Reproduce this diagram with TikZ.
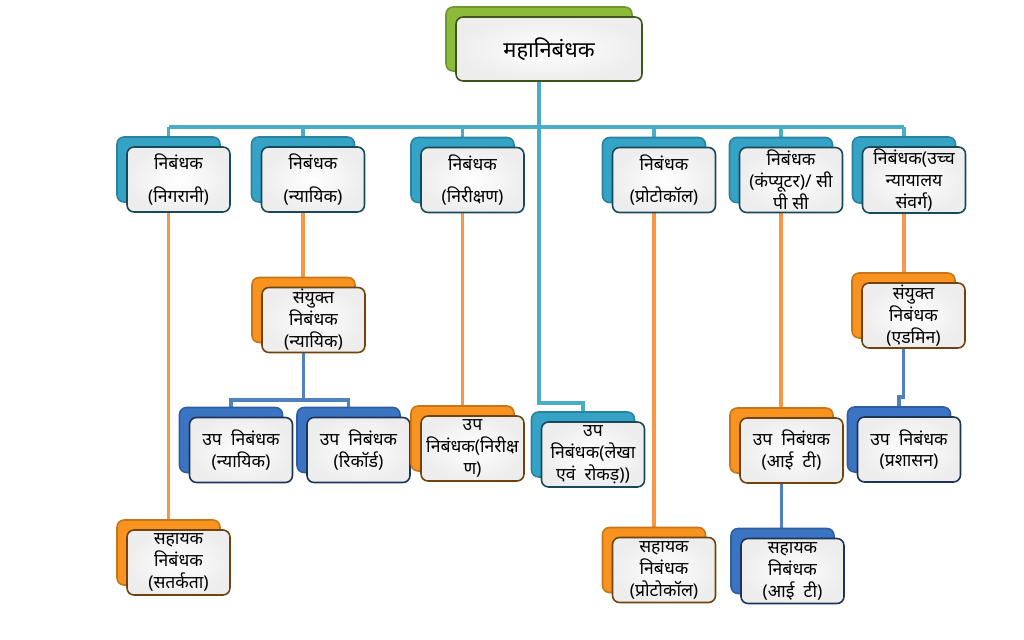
\documentclass[tikz,border=0pt]{standalone}
\usepackage{fontspec}
\newfontfamily\hindi[Script=Devanagari]{Noto Sans}
\usetikzlibrary{shadows,backgrounds}

\definecolor{leafgreen}{HTML}{8CBB3C}
\definecolor{aqua}{HTML}{35A3C6}
\definecolor{amber}{HTML}{F7931E}
\definecolor{royal}{HTML}{3C74C4}
\definecolor{aqualine}{HTML}{4BACC6}
\definecolor{amberline}{HTML}{F79646}
\definecolor{royalline}{HTML}{4F81BD}

\tikzset{
	card/.style={draw=#1!45!black, line width=0.9pt, rounded corners=4pt,
		inner color=white, outer color=black!7,
		minimum width=2.06cm, minimum height=1.3cm, inner sep=1pt,
		align=center, font=\hindi\fontsize{10}{12.5}\selectfont,
		general shadow={fill=#1, draw=#1!80!black, shadow xshift=-0.2cm, shadow yshift=0.2cm}},
	link/.style={draw=#1, line width=2pt},
}

\begin{document}
\begin{tikzpicture}[x=0.02cm, y=-0.02cm]
	\useasboundingbox (0,0) rectangle (1024,639);
	% top
	\node[card=leafgreen, minimum width=3.72cm, minimum height=1.28cm,
		font=\hindi\fontsize{12.5}{15}\selectfont] (top) at (549,49) {महानिबंधक};
	% level 1
	\node[card=aqua] (n1) at (178.5,179.5) {निबंधक\\[6pt](निगरानी)};
	\node[card=aqua] (n2) at (313,179.5) {निबंधक\\[6pt](न्यायिक)};
	\node[card=aqua] (n3) at (472.5,180) {निबंधक\\[6pt](निरीक्षण)};
	\node[card=aqua] (n4) at (664,180) {निबंधक\\[6pt](प्रोटोकॉल)};
	\node[card=aqua] (n5) at (791,180) {निबंधक\\(कंप्यूटर)/ सी\\पी सी};
	\node[card=aqua] (n6) at (914,180) {निबंधक(उच्च\\न्यायालय\\संवर्ग)};
	% level 2
	\node[card=amber] (j1) at (313.5,320) {संयुक्त\\निबंधक\\(न्यायिक)};
	\node[card=amber] (j2) at (913.5,315.5) {संयुक्त\\निबंधक\\(एडमिन)};
	% level 3
	\node[card=royal] (u1) at (241,450) {उप\ \ निबंधक\\(न्यायिक)};
	\node[card=royal] (u2) at (358.5,450) {उप\ \ निबंधक\\(रिकॉर्ड)};
	\node[card=amber] (u3) at (472.5,448.5) {उप\\निबंधक(निरीक्ष\\ण)};
	\node[card=aqua] (u4) at (593,454.5) {उप\\निबंधक(लेखा\\एवं\ \ रोकड़))};
	\node[card=amber] (u5) at (791.5,450.5) {उप\ \ निबंधक\\(आई\ \ टी)};
	\node[card=royal] (u6) at (909,449.5) {उप\ \ निबंधक\\(प्रशासन)};
	% level 4
	\node[card=amber] (s1) at (178.5,562.5) {सहायक\\निबंधक\\(सतर्कता)};
	\node[card=amber] (s2) at (664,570) {सहायक\\निबंधक\\(प्रोटोकॉल)};
	\node[card=royal] (s3) at (792.5,571) {सहायक\\निबंधक\\(आई\ \ टी)};

	\foreach \n in {top,n1,n2,n3,n4,n5,n6,j1,j2,u1,u2,u3,u4,u5,u6,s1,s2,s3}
		\coordinate (\n-b) at ([shift={(-10,-10)}]\n.center);

	% connectors
	\begin{scope}[on background layer]
		\coordinate (bus) at (0,127);
		\coordinate (fork) at (0,400);
		\coordinate (jog) at (0,403);
		\coordinate (kink) at (0,397);
		\draw[link=aqualine] (top-b) -- (top-b |- jog) -- (u4-b |- jog) -- (u4-b);
		\draw[link=aqualine] (n1-b |- bus) -- (n6-b |- bus);
		\foreach \n in {n1,n2,n3,n4,n5,n6}
			\draw[link=aqualine] (\n-b |- bus) -- (\n-b);
		\draw[link=amberline] (n1-b) -- (n1-b |- s1-b);
		\draw[link=amberline] (n2-b) -- (n2-b |- j1-b);
		\draw[link=amberline] (n3-b) -- (n3-b |- u3-b);
		\draw[link=amberline] (n4-b) -- (n4-b |- s2-b);
		\draw[link=amberline] (n5-b) -- (n5-b |- u5-b);
		\draw[link=amberline] (n6-b) -- (n6-b |- j2-b);
		\draw[link=royalline] (j1-b) -- (j1-b |- fork);
		\draw[link=royalline] (u1-b) -- (u1-b |- fork) -- (u2-b |- fork) -- (u2-b);
		\draw[link=royalline] (u5-b) -- (u5-b |- s3-b);
		\draw[link=royalline] (j2-b) -- (j2-b |- kink) -- (u6-b |- kink) -- (u6-b);
	\end{scope}
\end{tikzpicture}
\end{document}
